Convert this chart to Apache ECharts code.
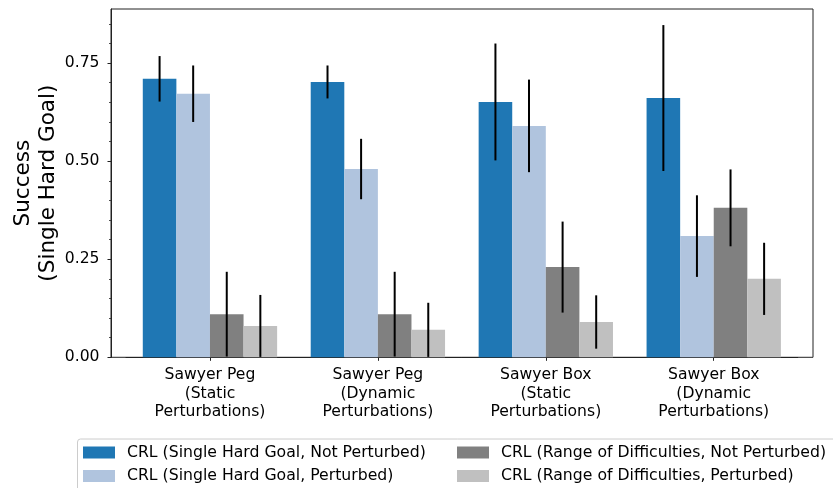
<!DOCTYPE html>
<html>
<head>
<meta charset="utf-8">
<script src="https://cdn.jsdelivr.net/npm/echarts@6/dist/echarts.min.js"></script>
<style>
html,body{margin:0;padding:0;background:#fff;}
#chart{width:833px;height:488px;}
</style>
</head>
<body>
<div id="chart"></div>
<script>
// ---- data ----
const categories = ["Sawyer Peg\n(Static\nPerturbations)", "Sawyer Peg\n(Dynamic\nPerturbations)", "Sawyer Box\n(Static\nPerturbations)", "Sawyer Box\n(Dynamic\nPerturbations)"];
const seriesNames = ["CRL (Single Hard Goal, Not Perturbed)", "CRL (Single Hard Goal, Perturbed)", "CRL (Range of Difficulties, Not Perturbed)", "CRL (Range of Difficulties, Perturbed)"];
const hardNotPerturbed = [0.71, 0.702, 0.651, 0.661];
const hardPerturbed = [0.672, 0.48, 0.59, 0.309];
const rangeNotPerturbed = [0.11, 0.11, 0.23, 0.381];
const rangePerturbed = [0.08, 0.07, 0.09, 0.2];
const errHardNotPerturbed = [0.058, 0.042, 0.149, 0.186];
const errHardPerturbed = [0.072, 0.077, 0.118, 0.104];
const errRangeNotPerturbed = [0.108, 0.108, 0.116, 0.098];
const errRangePerturbed = [0.079, 0.069, 0.068, 0.092];
const yMajorTicks = [0, 0.25, 0.5, 0.75];
const yMinorTicks = [0.05, 0.1, 0.15, 0.2, 0.3, 0.35, 0.4, 0.45, 0.55, 0.6, 0.65, 0.7, 0.8, 0.85];
const yMax = 0.888;

const values = [hardNotPerturbed, hardPerturbed, rangeNotPerturbed, rangePerturbed];
const errors = [errHardNotPerturbed, errHardPerturbed, errRangeNotPerturbed, errRangePerturbed];
const colors = ['#1f77b4', '#b0c4de', '#808080', '#c0c0c0'];

const FONT = 'DejaVu Sans';
const AX = '#222';

const chart = echarts.init(document.getElementById('chart'), null, {renderer: 'canvas'});

const errData = [];
values.forEach((arr, i) => arr.forEach((v, j) => {
  errData.push([j, v - errors[i][j], v + errors[i][j], i]);
}));

const barSeries = values.map((arr, i) => ({
  name: seriesNames[i],
  type: 'bar',
  xAxisIndex: 0,
  yAxisIndex: 0,
  data: arr,
  barWidth: '20%',
  barGap: '0%',
  itemStyle: {color: colors[i]},
  emphasis: {disabled: true},
  z: 2
}));

const option = {
  animation: false,
  backgroundColor: '#fff',
  textStyle: {fontFamily: FONT},
  grid: [
    {left: 126, right: 833 - 797.7, top: 9, bottom: 488 - 357.3, containLabel: false},
    {left: 111, right: 20, top: 9, bottom: 488 - 357.3, show: true, borderColor: AX, borderWidth: 1, backgroundColor: 'transparent', containLabel: false}
  ],
  xAxis: [
    {
      type: 'category', gridIndex: 0, data: categories,
      axisLine: {show: true, lineStyle: {color: AX, width: 1}},
      axisTick: {show: true, alignWithLabel: true, length: 3.5, lineStyle: {color: AX, width: 1}},
      axisLabel: {color: '#000', fontSize: 15.6, fontFamily: FONT, lineHeight: 18.5, margin: 8.5, interval: 0}
    },
    {type: 'value', gridIndex: 1, min: 0, max: 1, show: false}
  ],
  yAxis: [
    {type: 'value', gridIndex: 0, min: 0, max: yMax, show: false},
    {
      type: 'value', gridIndex: 1, min: 0, max: yMax, position: 'left',
      name: 'Success\n(Single Hard Goal)',
      nameLocation: 'middle', nameRotate: 90, nameGap: 50.5, nameMoveOverlap: false,
      nameTextStyle: {color: '#000', fontSize: 21.5, fontFamily: FONT, lineHeight: 25, align: 'center'},
      axisLine: {show: true, lineStyle: {color: AX, width: 1}},
      axisTick: {show: true, length: 3.5, customValues: yMajorTicks, lineStyle: {color: AX, width: 1}},
      axisLabel: {customValues: yMajorTicks, formatter: v => v.toFixed(2), color: '#000', fontSize: 15.6, fontFamily: FONT, margin: 11.5},
      splitLine: {show: false}
    },
    {
      type: 'value', gridIndex: 1, min: 0, max: yMax, position: 'left',
      axisLine: {show: false},
      axisTick: {show: true, length: 2, customValues: yMinorTicks, lineStyle: {color: AX, width: 0.8}},
      axisLabel: {show: false},
      splitLine: {show: false}
    }
  ],
  legend: [
    {
      data: [seriesNames[0], seriesNames[1]],
      orient: 'vertical', left: 83, top: 444.5, padding: 0,
      itemWidth: 32, itemHeight: 12, itemGap: 7.5, icon: 'rect',
      textStyle: {color: '#000', fontSize: 15.7, fontFamily: FONT, lineHeight: 16, padding: [0, 0, 0, 7]},
      selectedMode: false
    },
    {
      data: [seriesNames[2], seriesNames[3]],
      orient: 'vertical', left: 457, top: 444.5, padding: 0,
      itemWidth: 32, itemHeight: 12, itemGap: 7.5, icon: 'rect',
      textStyle: {color: '#000', fontSize: 15.7, fontFamily: FONT, lineHeight: 16, padding: [0, 0, 0, 7]},
      selectedMode: false
    }
  ],
  graphic: [
    {type: 'rect', left: 77, top: 438.5, z: -1, shape: {width: 770, height: 70, r: 3}, style: {fill: '#fff', stroke: '#cccccc', lineWidth: 1}}
  ],
  series: barSeries.concat([{
    type: 'custom',
    name: 'err',
    xAxisIndex: 0, yAxisIndex: 0,
    data: errData,
    z: 5,
    renderItem: function (params, api) {
      const cat = api.value(0);
      const lo = api.value(1);
      const hi = api.value(2);
      const idx = api.value(3);
      const bw = api.size([1, 0])[0] * 0.2;
      const pLo = api.coord([cat, lo]);
      const pHi = api.coord([cat, hi]);
      const x = pLo[0] + (idx - 1.5) * bw;
      return {
        type: 'line',
        shape: {x1: x, y1: pLo[1], x2: x, y2: pHi[1]},
        style: {stroke: '#000', lineWidth: 2}
      };
    }
  }])
};
chart.setOption(option);
</script>
</body>
</html>
